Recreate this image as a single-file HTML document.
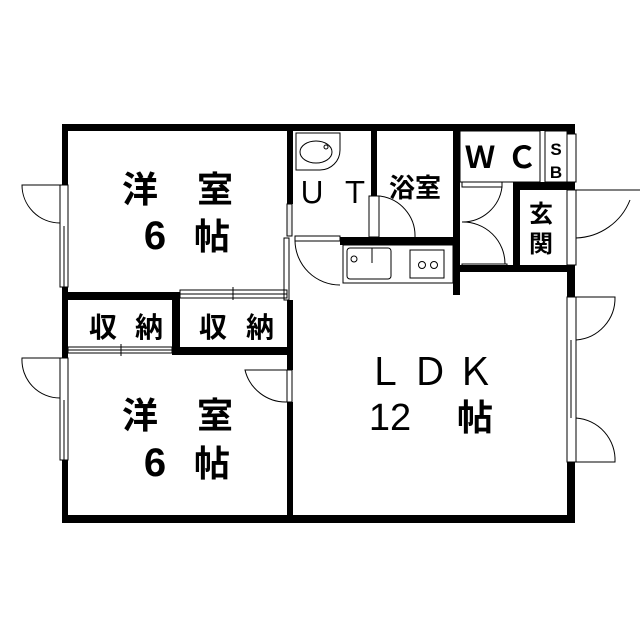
<html><body style="margin:0;background:#fff">
<svg width="640" height="640" viewBox="0 0 640 640" xmlns="http://www.w3.org/2000/svg" style="font-family:'Liberation Sans','Noto Sans CJK JP',sans-serif">
<g fill="#000">
<rect x="62" y="124" width="513" height="7"/>
<rect x="62" y="515" width="513" height="8"/>
<rect x="62" y="124" width="6" height="61"/>
<rect x="62" y="287" width="6" height="71"/>
<rect x="62" y="460" width="6" height="63"/>
<rect x="567" y="124" width="8" height="10"/>
<rect x="567" y="182" width="8" height="8"/>
<rect x="567" y="265" width="8" height="32"/>
<rect x="567" y="462" width="8" height="61"/>
<rect x="287" y="124" width="6" height="80"/>
<rect x="287" y="300" width="6" height="70"/>
<rect x="287" y="402" width="6" height="121"/>
<rect x="62" y="292" width="118" height="8"/>
<rect x="172" y="292" width="8" height="63"/>
<rect x="178" y="347" width="115" height="8"/>
<rect x="371" y="124" width="6" height="72"/>
<rect x="340" y="237" width="120" height="8"/>
<rect x="453" y="124" width="7" height="171"/>
<rect x="513" y="182" width="62" height="8"/>
<rect x="513" y="182" width="7" height="90"/>
<rect x="460" y="265" width="115" height="7"/>
</g>
<g fill="none" stroke="#000" stroke-width="1">
<rect x="60" y="185" width="8" height="102"/><line x1="64" y1="226" x2="64" y2="287"/>
<path d="M60 185 L22 185 A38 38 0 0 0 60 223"/>
<rect x="60" y="358" width="8" height="102"/><line x1="64" y1="400" x2="64" y2="460"/>
<path d="M60 358 L22 358 A38 38 0 0 0 60 398"/>
<rect x="567" y="297" width="9" height="165"/><line x1="571" y1="340" x2="571" y2="418"/>
<path d="M576 297 L615 297 A42 42 0 0 1 576 340"/>
<path d="M576 462 L615 462 A42 42 0 0 0 576 418"/>
<rect x="567" y="134" width="9" height="48"/>
<rect x="567" y="190" width="9" height="75"/>
<path d="M576 190 L640 190 M576 238 A60 60 0 0 0 630 200"/>
<rect x="180" y="290" width="107" height="4"/><rect x="180" y="294" width="107" height="4"/>
<line x1="233" y1="287" x2="233" y2="300"/>
<rect x="68" y="347" width="104" height="3"/><rect x="68" y="350" width="104" height="3"/>
<line x1="121" y1="344" x2="121" y2="356"/>
<rect x="287" y="204" width="5" height="32" fill="#eee"/>
<rect x="284" y="238" width="5" height="62"/>
<rect x="287" y="370" width="5" height="32"/>
<path d="M287 370 L245 370 A42 42 0 0 0 287 402"/>
<rect x="295" y="236" width="45" height="5"/>
<path d="M295 241 A45 45 0 0 0 340 285"/>
<rect x="369" y="196" width="10" height="41"/>
<path d="M379 196 A40 40 0 0 1 415 237"/>
<rect x="462" y="182" width="40" height="5"/>
<path d="M462 222 A40 40 0 0 0 502 187"/>
<path d="M462 222 A42 42 0 0 1 505 264"/>
<rect x="462" y="264" width="45" height="5"/>
<rect x="460" y="131" width="80" height="51"/>
<rect x="545" y="131" width="22" height="51"/>
<path d="M296 133 L340 133 L340 150 A20 20 0 0 1 320 170 L296 170 Z"/>
<ellipse cx="316" cy="152" rx="16" ry="11"/>
<circle cx="326" cy="147" r="2"/>
<rect x="343" y="245" width="110" height="38"/>
<rect x="347" y="248" width="44" height="31" rx="3"/>
<circle cx="354" cy="259" r="3"/>
<line x1="372" y1="248" x2="372" y2="263"/>
<rect x="410" y="250" width="34" height="28"/>
<circle cx="422" cy="265" r="3.5"/><circle cx="434" cy="265" r="3.5"/>
</g>
<g font-size="36" fill="#000" text-anchor="middle" font-weight="bold">
<text x="140" y="202">洋</text><text x="215" y="202">室</text>
<text x="155" y="249" font-size="40">6</text><text x="212" y="249">帖</text>
<text x="140" y="428">洋</text><text x="215" y="428">室</text>
<text x="155" y="476" font-size="40">6</text><text x="212" y="476">帖</text>
<text x="385" y="385" font-size="38" font-weight="normal">Ｌ</text><text x="430" y="385" font-size="38" font-weight="normal">Ｄ</text><text x="475" y="385" font-size="38" font-weight="normal">Ｋ</text>
<text x="390" y="430" font-size="38" font-weight="normal">12</text><text x="475" y="430">帖</text>
</g>
<g font-size="28" fill="#000" text-anchor="middle" font-weight="bold">
<text x="103" y="337">収</text><text x="149" y="337">納</text>
<text x="213" y="337">収</text><text x="260" y="337">納</text>
<text x="312" y="203" font-size="30" font-weight="normal">Ｕ</text><text x="355" y="203" font-size="30" font-weight="normal">Ｔ</text>
<text x="415" y="197" font-size="26">浴室</text>
<text x="480" y="168" font-size="30">Ｗ</text><text x="522" y="168" font-size="30">Ｃ</text>
<text x="556" y="155" font-size="17">S</text><text x="556" y="178" font-size="17">B</text>
<text x="541" y="222" font-size="24">玄</text><text x="541" y="252" font-size="24">関</text>
</g>
</svg>
</body></html>
